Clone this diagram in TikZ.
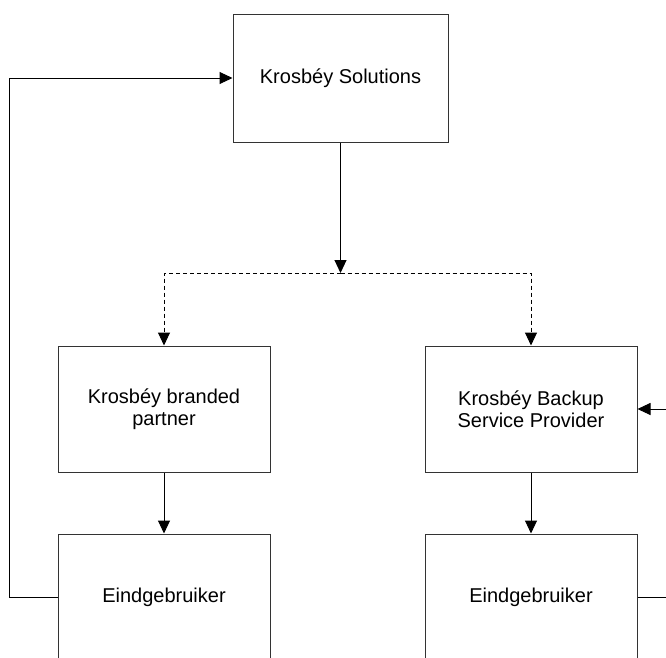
\documentclass[tikz,border=0pt]{standalone}
\usepackage{fontspec}
\setmainfont{Liberation Sans}
\usetikzlibrary{arrows.meta}
\begin{document}
\begin{tikzpicture}[x=1pt,y=-1pt,
  box/.style={draw=black!80, line width=1pt, rectangle, align=center,
    font=\fontsize{20}{22.5}\selectfont, inner sep=0pt},
  conn/.style={draw=black, line width=1pt, -{Triangle[length=13pt,width=12pt]}},
  plain/.style={draw=black, line width=1pt},
  dashconn/.style={conn, dash pattern=on 4pt off 3pt}]
\useasboundingbox (0,0) rectangle (666,657);
\clip (0,0) rectangle (666,657);
\node[box, minimum width=215pt, minimum height=128pt] (top) at (340.5,78) {Krosbéy Solutions};
\node[box, minimum width=212pt, minimum height=126pt] (lm) at (164,409) {Krosbéy branded\\partner};
\node[box, minimum width=212pt, minimum height=126pt] (rm) at (531,409) {Krosbéy Backup\\Service Provider};
\node[box, minimum width=212pt, minimum height=126pt] (lb) at (164,597) {Eindgebruiker};
\node[box, minimum width=212pt, minimum height=126pt] (rb) at (531,597) {Eindgebruiker};
\coordinate (j) at (340.5,273);
\coordinate (lc) at (9,597);
\coordinate (rin) at (667,409);
\coordinate (rout) at (667,597);
\draw[conn] (top.south) -- (j);
\draw[dashconn] (j) -| (lm.north);
\draw[dashconn] (j) -| (rm.north);
\draw[conn] (lm.south) -- (lb.north);
\draw[conn] (rm.south) -- (rb.north);
\draw[conn] (lb.west) -- (lc) |- (top.west);
\draw[conn] (rin) -- (rm.east);
\draw[plain] (rb.east) -- (rout);
\end{tikzpicture}
\end{document}
